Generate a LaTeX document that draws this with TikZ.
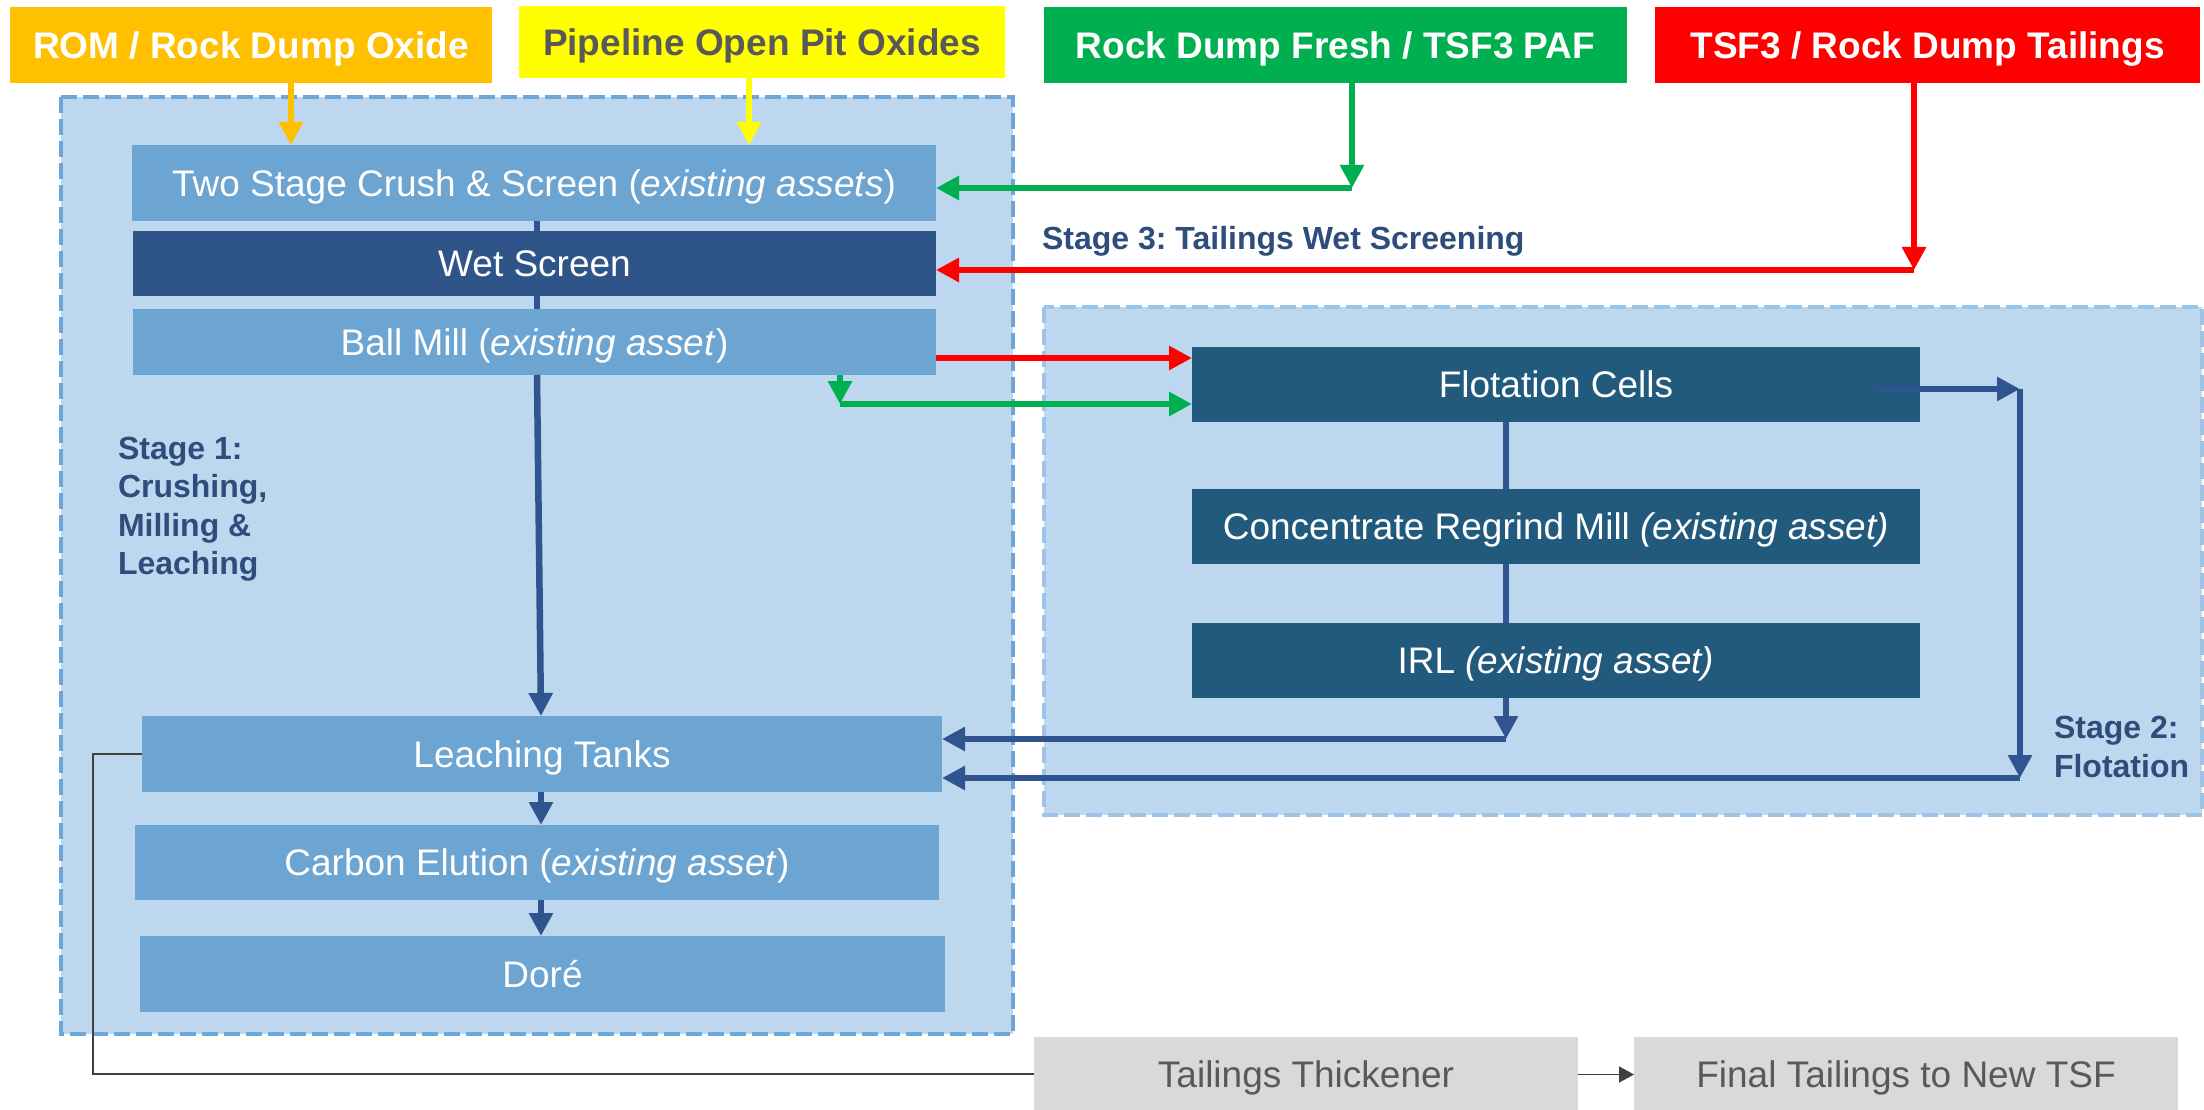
\documentclass[tikz,border=0pt]{standalone}
\usepackage{fontspec}
\setmainfont{Liberation Sans}
\usetikzlibrary{arrows.meta}
\frenchspacing
\definecolor{cOrange}{HTML}{FFC000}
\definecolor{cYellow}{HTML}{FFFF00}
\definecolor{cGreen}{HTML}{00B050}
\definecolor{cRed}{HTML}{FF0000}
\definecolor{stageFill}{HTML}{BDD7EE}
\definecolor{stageOneBorder}{HTML}{6FA6D8}
\definecolor{stageTwoBorder}{HTML}{9DC3E6}
\definecolor{lightBox}{HTML}{6CA4D2}
\definecolor{wetBox}{HTML}{2F5488}
\definecolor{flotBox}{HTML}{215A7C}
\definecolor{flowBlue}{HTML}{2F5490}
\definecolor{labelBlue}{HTML}{2E4D7C}
\definecolor{grayBox}{HTML}{D9D9D9}
\definecolor{grayText}{HTML}{595959}
\begin{document}
\begin{tikzpicture}[x=1pt,y=-1pt,
  box/.style={inner sep=0pt, outer sep=0pt, font=\fontsize{37}{44}\selectfont, text=white, text height=26.5pt, text depth=0pt},
  srcbox/.style={box, font=\fontsize{37}{44}\selectfont\bfseries},
  stagebox/.style={fill=stageFill, line width=4pt, dash pattern=on 16pt off 6pt},
  stagelabel/.style={inner sep=0pt, outer sep=0pt, text=labelBlue, font=\fontsize{32}{38.5}\selectfont\bfseries, align=left, anchor=west},
  flowline/.style={line width=6.5pt, -{Triangle[length=23pt,width=23pt]}},
  plainline/.style={line width=6.5pt, draw=flowBlue},
  tailline/.style={line width=1.5pt, draw=black!75},
]
\useasboundingbox (0,0) rectangle (2204,1110);
\fill[white] (0,0) rectangle (2204,1110);

% stage containers
\draw[stagebox, draw=stageOneBorder] (61,97) rectangle (1013,1034);
\draw[stagebox, draw=stageTwoBorder] (1044,307) rectangle (2202,815);

% source boxes
\node[srcbox, fill=cOrange, minimum width=482pt, minimum height=76pt] (rom) at (251,45) {ROM / Rock Dump Oxide};
\node[srcbox, fill=cYellow, text=grayText, minimum width=486pt, minimum height=72pt] (pipe) at (762,42) {Pipeline Open Pit Oxides};
\node[srcbox, fill=cGreen, minimum width=583pt, minimum height=76pt] (fresh) at (1335.5,45) {Rock Dump Fresh / TSF3 PAF};
\node[srcbox, fill=cRed, minimum width=545pt, minimum height=76pt] (tsf) at (1927.5,45) {TSF3 / Rock Dump Tailings};

% stage 1 boxes
\node[box, fill=lightBox, minimum width=804pt, minimum height=76pt] (crush) at (534,183) {Two Stage Crush \& Screen (\textit{existing assets})};
\node[box, fill=wetBox, minimum width=803pt, minimum height=65pt] (wet) at (534.5,263.5) {Wet Screen};
\node[box, fill=lightBox, minimum width=803pt, minimum height=66pt] (ball) at (534.5,342) {Ball Mill (\textit{existing asset})};
\node[box, fill=lightBox, minimum width=800pt, minimum height=76pt] (leach) at (542,754) {Leaching Tanks};
\node[box, fill=lightBox, minimum width=804pt, minimum height=75pt] (carbon) at (537,862.5) {Carbon Elution (\textit{existing asset})};
\node[box, fill=lightBox, minimum width=805pt, minimum height=76pt] (dore) at (542.5,974) {Doré};

% stage 2 boxes
\node[box, fill=flotBox, minimum width=728pt, minimum height=75pt] (flot) at (1556,384.5) {Flotation Cells};
\node[box, fill=flotBox, minimum width=728pt, minimum height=75pt] (crm) at (1556,526.5) {Concentrate Regrind Mill \textit{(existing asset)}};
\node[box, fill=flotBox, minimum width=728pt, minimum height=75pt] (irl) at (1556,660.5) {IRL \textit{(existing asset)}};

% tailings boxes
\node[box, fill=grayBox, text=grayText, minimum width=544pt, minimum height=75pt] (thick) at (1306,1074.5) {Tailings Thickener};
\node[box, fill=grayBox, text=grayText, minimum width=544pt, minimum height=75pt] (final) at (1906,1074.5) {Final Tailings to New TSF};

% labels
\node[stagelabel] (s3) at (1042,241) {Stage 3: Tailings Wet Screening};
\node[stagelabel] (s1) at (118,509) {Stage 1:\\Crushing,\\Milling \&\\Leaching};
\node[stagelabel] (s2) at (2054,747) {Stage 2:\\Flotation};

% coordinates
\coordinate (romX) at (291,0);
\coordinate (pipeX) at (749,0);
\coordinate (gTurn) at (1352,188);
\coordinate (rTurn) at (1914,270);
\coordinate (rBall) at (0,358);
\coordinate (gDrop) at (840,404);
\coordinate (mainX) at (537,0);
\coordinate (leachX) at (541,0);
\coordinate (fX) at (1506,0);
\coordinate (irlTurn) at (1506,739);
\coordinate (fOutStart) at (1873,389);
\coordinate (fTurnA) at (2020,389);
\coordinate (fTurnB) at (2020,778);
\coordinate (tailTurnA) at (93,754);
\coordinate (tailTurnB) at (93,1074);

% source feeds
\draw[flowline, draw=cOrange] (rom.south -| romX) -- (crush.north -| romX);
\draw[flowline, draw=cYellow] (pipe.south -| pipeX) -- (crush.north -| pipeX);
\draw[flowline, draw=cGreen] (fresh.south -| gTurn) -- (gTurn);
\draw[flowline, draw=cGreen] (gTurn) -- (crush.east |- gTurn);
\draw[flowline, draw=cRed] (tsf.south -| rTurn) -- (rTurn);
\draw[flowline, draw=cRed] (rTurn) -- (wet.east |- rTurn);
\draw[flowline, draw=cRed] (ball.east |- rBall) -- (flot.west |- rBall);
\draw[flowline, draw=cGreen] (ball.south -| gDrop) -- (gDrop);
\draw[flowline, draw=cGreen] (gDrop) -- (flot.west |- gDrop);

% stage 1 chain
\draw[plainline] (crush.south -| mainX) -- (wet.north -| mainX);
\draw[plainline] (wet.south -| mainX) -- (ball.north -| mainX);
\draw[flowline, draw=flowBlue] (ball.south -| mainX) -- (leach.north -| leachX);
\draw[flowline, draw=flowBlue] (leach.south -| leachX) -- (carbon.north -| leachX);
\draw[flowline, draw=flowBlue] (carbon.south -| leachX) -- (dore.north -| leachX);

% stage 2 chain
\draw[plainline] (flot.south -| fX) -- (crm.north -| fX);
\draw[plainline] (crm.south -| fX) -- (irl.north -| fX);
\draw[flowline, draw=flowBlue] (irl.south -| fX) -- (irlTurn);
\draw[flowline, draw=flowBlue] (irlTurn) -- (leach.east |- irlTurn);
\draw[flowline, draw=flowBlue] (fOutStart) -- (fTurnA);
\draw[flowline, draw=flowBlue] (fTurnA) -- (fTurnB);
\draw[flowline, draw=flowBlue] (fTurnB) -- (leach.east |- fTurnB);

% tailings
\draw[tailline] (leach.west) -- (tailTurnA) -- (tailTurnB) -- (thick.west |- tailTurnB);
\draw[tailline, -{Triangle[length=15pt,width=16pt]}] (thick.east) -- (final.west);
\end{tikzpicture}
\end{document}
